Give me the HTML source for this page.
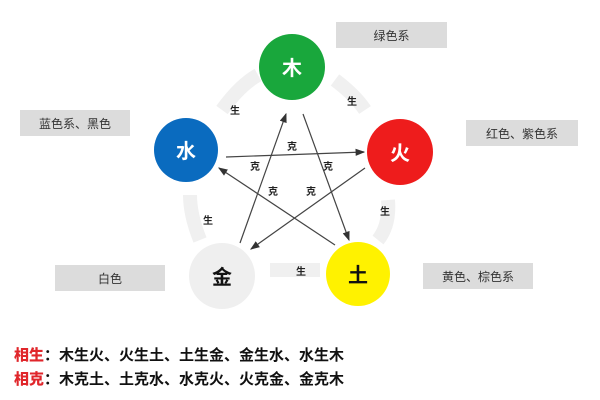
<!DOCTYPE html>
<html><head><meta charset="utf-8"><style>
body{margin:0;width:600px;height:400px;background:#fff;overflow:hidden;font-family:"Liberation Sans","Noto Sans CJK SC",sans-serif;position:relative}
.box{position:absolute;background:#dcdcdc;color:#333;font-size:12px;display:flex;align-items:center;justify-content:center;height:26px}
.t{position:absolute;left:14px;font-size:15px;font-weight:bold;color:#111}
.t b{color:#e0262b}
</style></head><body>
<div class="box" style="left:336px;top:22px;width:111px">绿色系</div>
<div class="box" style="left:20px;top:110px;width:110px">蓝色系、黑色</div>
<div class="box" style="left:466px;top:120px;width:112px">红色、紫色系</div>
<div class="box" style="left:55px;top:265px;width:110px">白色</div>
<div class="box" style="left:423px;top:263px;width:110px">黄色、棕色系</div>
<svg width="600" height="400" style="position:absolute;left:0;top:0" font-family="Liberation Sans,Noto Sans CJK SC,sans-serif">
<defs><marker id="a" markerWidth="8" markerHeight="8" refX="7" refY="4" orient="auto"><path d="M0,1 L8,4 L0,7z" fill="#333"/></marker></defs>
<g fill="none" stroke="#f0f0f0" stroke-width="14">
<path d="M222,110 Q240,85 258,75"/><path d="M335,80 Q355,95 365,110"/>
<path d="M388,200 Q390,225 378,240"/><path d="M320,270 L270,270"/><path d="M200,240 Q190,215 190,195"/>
</g>
<g stroke="#444" stroke-width="1.2" marker-end="url(#a)">
<line x1="226" y1="157" x2="364" y2="152"/>
<line x1="303" y1="114" x2="349" y2="240"/>
<line x1="240" y1="243" x2="286" y2="114"/>
<line x1="365" y1="168" x2="251" y2="249"/>
<line x1="335" y1="245" x2="219" y2="168"/>
</g>
<g font-size="10" font-weight="bold" fill="#222" text-anchor="middle">
<text x="292" y="150">克</text><text x="255" y="170">克</text><text x="328" y="170">克</text>
<text x="273" y="195">克</text><text x="311" y="195">克</text>
<text x="235" y="114">生</text><text x="352" y="105">生</text><text x="385" y="215">生</text>
<text x="301" y="275">生</text><text x="208" y="224">生</text>
</g>
<circle cx="292" cy="67" r="33" fill="#19a73c"/>
<circle cx="186" cy="150" r="32" fill="#0a6bbf"/>
<circle cx="400" cy="152" r="33" fill="#ee1c1c"/>
<circle cx="222" cy="276" r="33" fill="#efefef"/>
<circle cx="358" cy="274" r="32" fill="#fff200"/>
<g font-size="20" font-weight="bold" text-anchor="middle">
<text x="292" y="75" fill="#fff">木</text><text x="186" y="158" fill="#fff">水</text>
<text x="400" y="160" fill="#fff">火</text><text x="222" y="284" fill="#111">金</text>
<text x="358" y="282" fill="#111">土</text>
</g>
</svg>
<div class="t" style="top:344px"><b>相生</b>：木生火、火生土、土生金、金生水、水生木</div>
<div class="t" style="top:368px"><b>相克</b>：木克土、土克水、水克火、火克金、金克木</div>
</body></html>
